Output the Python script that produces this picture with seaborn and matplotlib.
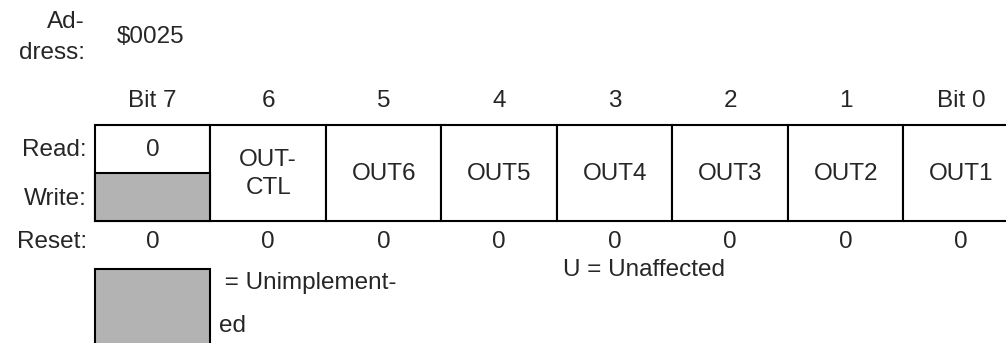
import seaborn as sns
import matplotlib.pyplot as plt
from matplotlib.patches import Rectangle

# register layout (PORT output register, address $0025)
address = "$0025"
bit_labels = ["Bit 7", "6", "5", "4", "3", "2", "1", "Bit 0"]
read_labels = ["0", "OUT-\nCTL", "OUT6", "OUT5", "OUT4", "OUT3", "OUT2", "OUT1"]
reset_values = ["0", "0", "0", "0", "0", "0", "0", "0"]
unimplemented = [True, False, False, False, False, False, False, False]
row_names = ["Read:", "Write:", "Reset:"]

sns.set_theme(style="white")
plt.rcParams['font.family'] = ['Liberation Sans', 'DejaVu Sans']

GRAY = "#b3b3b3"
FS = 17.5

fig = plt.figure(figsize=(10.06, 3.43), dpi=100)
ax = fig.add_axes([0, 0, 1, 1])
ax.set_xlim(0, 1006)
ax.set_ylim(343, 0)
ax.axis('off')

x0, w = 95, 115.5
top, mid, bot = 125, 173, 221

# address
ax.text(85, 22, "Ad-", ha='right', va='center', fontsize=FS)
ax.text(85, 53, "dress:", ha='right', va='center', fontsize=FS)
ax.text(117, 37, address, ha='left', va='center', fontsize=FS)

# row names
for name, y in zip(row_names, [150, 199, 242]):
    ax.text(87, y, name, ha='right', va='center', fontsize=FS)

for i, (bit, rd, rs, un) in enumerate(zip(bit_labels, read_labels, reset_values, unimplemented)):
    xl = x0 + i * w
    xc = xl + w / 2
    ax.text(xc, 101, bit, ha='center', va='center', fontsize=FS)
    ax.add_patch(Rectangle((xl, top), w, bot - top, facecolor='white',
                           edgecolor='black', lw=1.5, zorder=1))
    if un:
        ax.add_patch(Rectangle((xl, mid), w, bot - mid, facecolor=GRAY,
                               edgecolor='black', lw=1.5, zorder=2))
        ax.text(xc, 150, rd, ha='center', va='center', fontsize=FS)
    else:
        ax.text(xc, 174, rd, ha='center', va='center', fontsize=FS, linespacing=1.3)
    ax.text(xc, 242, rs, ha='center', va='center', fontsize=FS)

# legend
ax.add_patch(Rectangle((x0, 269), w, 100, facecolor=GRAY, edgecolor='black',
                       lw=1.5, zorder=2, clip_on=True))
ax.text(218, 283, " = Unimplement-", ha='left', va='center', fontsize=FS)
ax.text(219, 326, "ed", ha='left', va='center', fontsize=FS)
ax.text(563, 270, "U = Unaffected", ha='left', va='center', fontsize=FS)

fig.savefig("out.png", dpi=100, facecolor='white')
